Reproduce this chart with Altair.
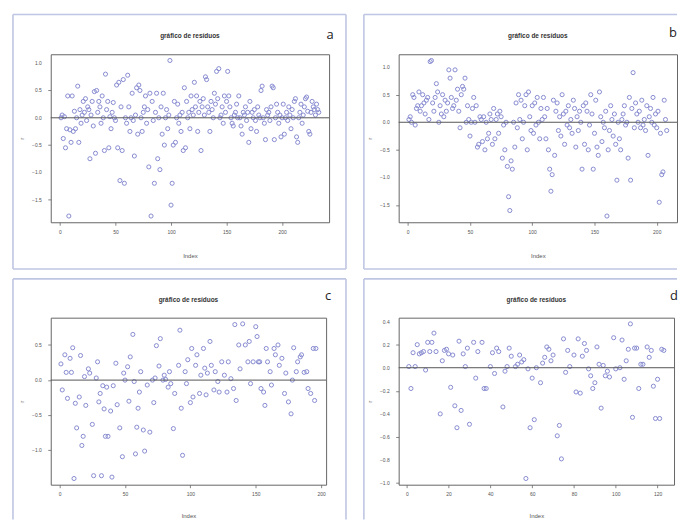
import altair as alt
import pandas as pd

# ---------------- data ----------------
# panel a: residuals in index order (1..233)
a_r = [
    0.00, 0.05, -0.38, 0.02, -0.55, -0.20, 0.40, -1.80, -0.22, -0.45,
    0.40, -0.25, 0.12, -0.20, 0.00, 0.58, -0.45, 0.15, -0.10, 0.05,
    0.30, 0.10, 0.35, -0.05, 0.20, 0.15, -0.75, 0.05, 0.30, -0.15,
    0.48, -0.65, 0.50, 0.10, 0.30, 0.20, -0.10, 0.40, 0.00, -0.60,
    0.80, 0.15, 0.30, -0.55, 0.02, -0.20, 0.10, 0.28, 0.00, -0.05,
    0.60, -0.55, 0.65, -1.15, 0.20, -0.60, 0.70, -1.20, 0.00, -0.10,
    0.78, 0.20, -0.25, 0.00, 0.45, -0.05, -0.70, 0.05, 0.55, -0.30,
    0.60, 0.50, 0.00, -0.25, 0.10, 0.20, 0.40, -0.10, 0.15, -0.90,
    0.45, -1.80, 0.30, -0.05, -1.20, 0.10, 0.45, -0.75, 0.00, -0.95,
    0.20, -0.30, 0.45, -0.50, 0.00, 0.15, -0.20, 0.05, 1.05, -1.60,
    -1.20, -0.50, 0.30, -0.45, 0.00, 0.25, -0.10, 0.05, -0.25, 0.10,
    -0.60, 0.55, -0.55, 0.30, 0.00, 0.10, -0.20, 0.40, 0.15, 0.05,
    0.65, 0.20, 0.40, -0.25, 0.10, 0.30, -0.60, 0.20, 0.35, 0.05,
    0.75, 0.70, 0.20, 0.10, -0.25, 0.30, 0.15, 0.00, 0.45, 0.25,
    0.85, 0.35, 0.90, 0.00, 0.05, 0.20, -0.10, 0.40, 0.10, 0.30,
    0.85, 0.40, 0.20, 0.00, -0.10, -0.15, 0.05, 0.10, 0.25, 0.00,
    0.40, 0.00, -0.15, -0.30, 0.10, 0.05, 0.20, -0.05, 0.10, -0.45,
    0.30, -0.20, 0.10, 0.00, 0.15, -0.05, -0.25, 0.20, 0.05, 0.00,
    0.50, 0.58, 0.00, -0.10, -0.40, 0.15, 0.05, 0.10, -0.05, 0.20,
    0.58, 0.55, -0.40, 0.00, 0.25, 0.10, -0.10, 0.05, -0.35, 0.00,
    0.25, -0.30, 0.00, 0.10, -0.05, 0.20, 0.05, -0.20, 0.15, 0.00,
    0.30, 0.35, -0.35, -0.45, 0.00, 0.10, 0.25, -0.10, 0.05, 0.20,
    0.35, 0.38, 0.12, -0.25, -0.30, 0.10, 0.30, 0.20, 0.15, 0.05,
    0.25, 0.15, 0.10,
]

# panel b: residuals in index order (1..208)
b_r = [
    0.05, 0.10, 0.00, 0.50, 0.45, -0.05, 0.25, 0.30, 0.55, 0.20,
    0.30, 0.50, 0.35, 0.15, 0.40, 0.45, 0.05, 1.10, 1.12, 0.35,
    0.20, 0.45, 0.70, 0.55, 0.00, 0.30, 0.15, 0.50, 0.10, 0.40,
    0.20, 0.35, 0.95, 0.80, 0.45, 0.25, 0.30, 0.95, 0.40, 0.60,
    0.20, -0.10, 0.50, 0.65, 0.60, 0.80, 0.00, 0.30, 0.05, -0.25,
    0.00, 0.25, 0.45, 0.00, 0.30, -0.45, -0.40, 0.10, 0.05, -0.35,
    0.10, -0.50, 0.00, -0.30, -0.20, 0.15, 0.05, -0.40, 0.25, -0.30,
    0.05, 0.15, -0.20, 0.20, 0.10, -0.65, -0.05, -0.50, 0.00, -0.80,
    -1.35, -1.60, -0.70, -0.85, 0.00, -0.45, 0.35, -0.10, 0.50, 0.05,
    0.40, -0.30, 0.00, 0.30, 0.50, -0.50, 0.55, 0.10, -0.15, 0.30,
    -0.20, 0.35, -0.05, 0.45, 0.00, -0.30, 0.25, 0.05, 0.45, 0.10,
    -0.30, 0.25, -0.50, -0.85, -1.25, -0.95, 0.40, -0.60, 0.20, 0.35,
    -0.15, 0.10, -0.25, 0.50, 0.15, -0.40, 0.20, -0.05, 0.30, -0.10,
    0.05, -0.20, 0.40, 0.25, -0.45, 0.10, -0.15, 0.20, 0.00, -0.85,
    0.30, -0.40, 0.35, 0.20, -0.50, -0.05, 0.50, 0.15, -0.85, -0.20,
    0.40, -0.45, -0.60, 0.55, 0.10, -0.35, 0.00, -0.10, 0.20, -1.70,
    -0.50, -0.15, 0.30, 0.05, -0.25, 0.15, -0.40, -1.05, 0.00, -0.30,
    -0.50, 0.05, 0.15, 0.30, -0.05, 0.00, -0.65, 0.45, -1.05, 0.25,
    0.90, -0.10, 0.35, 0.15, 0.00, 0.20, -0.10, 0.40, -0.05, 0.05,
    -0.15, 0.30, -0.60, 0.10, 0.25, 0.00, 0.45, -0.05, 0.15, -0.10,
    0.20, -1.45, -0.20, -0.95, -0.90, 0.40, 0.05, -0.15,
]

# panel c: index / residual pairs
c_idx = [1, 2, 4, 5, 6, 8, 9, 10, 11, 12, 13, 15, 16, 17, 18, 19, 20, 22, 23, 25,
         26, 28, 29, 30, 31, 32, 33, 34, 35, 36, 37, 39, 40, 41, 43, 44, 46, 48, 49, 50,
         52, 53, 54, 56, 57, 58, 59, 60, 61, 62, 64, 65, 67, 69, 71, 72, 73, 74, 76, 77,
         79, 80, 81, 83, 84, 85, 87, 88, 91, 92, 93, 94, 96, 97, 98, 100, 101, 102, 104, 105,
         107, 108, 110, 111, 112, 113, 115, 116, 118, 119, 121, 122, 124, 126, 128, 129, 131, 133, 134, 135,
         137, 138, 140, 142, 144, 145, 146, 148, 150, 151, 152, 153, 154, 156, 157, 158, 159, 161, 162, 164,
         165, 167, 168, 170, 172, 173, 175, 177, 178, 179, 181, 182, 184, 185, 187, 189, 190, 192, 194, 195,
         196]
c_r = [0.23, -0.14, 0.36, 0.11, -0.26, 0.31, 0.11, 0.46, -1.40, -0.33, -0.68, -0.24, 0.35, -0.93, -0.80, 0.05, -0.36, 0.16, 0.10, -0.63,
       -1.36, 0.03, 0.26, -0.31, -0.19, -1.36, -0.08, -0.41, -0.80, -0.10, -0.80, -0.44, -1.38, -0.08, 0.24, -0.35, -0.68, -1.09, 0.10, 0.00,
       0.19, -0.30, 0.33, 0.65, -0.02, -1.05, -0.67, -0.40, -0.17, 0.12, -0.71, -1.01, -0.07, -0.74, 0.00, -0.32, 0.03, 0.49, 0.20, 0.59,
       0.00, 0.07, 0.01, -0.10, 0.12, -0.05, -0.69, -0.19, 0.21, 0.71, -0.40, -1.07, 0.12, -0.05, 0.29, -0.32, 0.45, -0.24, 0.21, 0.36,
       -0.19, 0.07, 0.45, 0.17, -0.21, 0.10, 0.55, 0.21, -0.14, 0.12, -0.02, -0.17, 0.26, 0.07, -0.17, 0.26, 0.02, -0.12, 0.79, -0.29,
       0.50, 0.16, 0.80, 0.50, 0.26, 0.55, -0.05, 0.26, 0.76, 0.62, 0.26, 0.26, -0.12, -0.17, -0.36, 0.45, 0.26, 0.12, -0.07, 0.45,
       0.36, 0.50, 0.21, 0.31, -0.19, 0.10, -0.31, -0.48, 0.00, 0.46, 0.12, 0.26, 0.33, 0.36, 0.11, 0.12, -0.12, -0.19, 0.45, -0.29,
       0.45]

# panel d: index / residual pairs
d_idx = [1, 2, 3, 4, 5, 6, 7, 8, 9, 10, 11, 12, 13, 14, 16, 17, 18, 19, 20, 21,
         22, 23, 24, 25, 26, 27, 28, 29, 30, 32, 33, 34, 36, 37, 38, 40, 41, 42, 43, 44,
         46, 47, 48, 49, 50, 52, 53, 54, 55, 56, 57, 58, 59, 60, 61, 62, 64, 65, 66, 67,
         68, 69, 70, 72, 73, 74, 75, 76, 77, 78, 80, 81, 82, 83, 84, 85, 86, 87, 88, 89,
         90, 91, 92, 93, 94, 95, 96, 97, 99, 100, 102, 103, 104, 105, 106, 107, 108, 109, 110, 111,
         112, 113, 115, 116, 117, 118, 119, 120, 121, 122, 123]
d_r = [0.01, -0.18, 0.13, 0.01, 0.20, 0.12, 0.13, 0.14, -0.02, 0.22, 0.14, 0.22, 0.30, 0.14, -0.40, 0.06, 0.15, 0.16, 0.12, -0.17,
       0.11, -0.33, -0.52, 0.23, -0.37, 0.12, 0.01, 0.17, -0.49, 0.22, -0.09, 0.14, 0.22, -0.18, -0.18, 0.01, 0.13, -0.05, 0.17, 0.14,
       -0.34, -0.03, 0.01, 0.17, 0.10, 0.01, 0.03, 0.11, 0.05, 0.07, -0.96, -0.01, -0.52, -0.09, -0.45, 0.00, -0.13, 0.04, 0.09, 0.18,
       0.16, 0.06, 0.11, -0.59, -0.50, -0.79, 0.25, -0.04, 0.15, 0.01, 0.11, -0.21, 0.25, -0.22, 0.10, 0.21, 0.15, -0.01, -0.07, -0.18,
       -0.13, 0.18, 0.03, -0.35, 0.02, -0.07, -0.03, -0.08, 0.26, -0.01, 0.00, 0.24, -0.10, 0.06, 0.16, 0.38, -0.43, 0.17, 0.17, -0.18,
       0.03, 0.03, 0.18, 0.09, 0.15, -0.16, -0.44, -0.10, -0.44, 0.16, 0.15]

a_idx = list(range(1, len(a_r) + 1))
b_idx = list(range(1, len(b_r) + 1))

x_ticks_200 = [0, 50, 100, 150, 200]
x_ticks_120 = [0, 20, 40, 60, 80, 100, 120]
y_ticks_a = [-1.5, -1.0, -0.5, 0.0, 0.5, 1.0]
y_ticks_c = [-1.0, -0.5, 0.0, 0.5]
y_ticks_d = [-1.0, -0.8, -0.6, -0.4, -0.2, 0.0, 0.2, 0.4]

TITLE = "gráfico de resíduos"
POINT = "#878bd0"
FRAME = "#bfc6e3"
FONT = "Liberation Sans"


def panel(idx, r, xdom, ydom, xt, yt, w, h, letter, edges, lpos, title_y):
    df = pd.DataFrame({"Index": idx, "r": r})
    one = pd.DataFrame({"k": [0]})
    ticks_df = pd.DataFrame({"r": yt})
    yscale = alt.Scale(domain=ydom, nice=False, zero=False)
    x = alt.X("Index:Q",
              scale=alt.Scale(domain=xdom, nice=False, zero=False),
              axis=alt.Axis(values=xt, format="d", title="Index", labelOverlap=False,
                            titleY=title_y, titleBaseline="middle"))
    y = alt.Y("r:Q", scale=yscale,
              axis=alt.Axis(values=yt, labels=False, title="r",
                            titleX=-29, titleY=h / 2, titleBaseline="middle"))
    pts = alt.Chart(df).mark_point(
        shape="circle", filled=False, size=17, stroke=POINT, strokeWidth=1.0, opacity=1
    ).encode(x=x, y=y)
    # y tick labels, placed through the y scale
    ylab = alt.Chart(ticks_df).mark_text(
        align="right", baseline="middle", font=FONT, fontSize=5, color="#555555"
    ).encode(y=alt.Y("r:Q", scale=yscale),
             x=alt.value(-9),
             text=alt.Text("r:Q", format=".1f"))
    zero = alt.Chart(one).mark_rule(color="#555555", strokeWidth=1).encode(
        y=alt.Y(datum=0), x=alt.value(0), x2=alt.value(w))
    layers = [pts, ylab, zero]
    for (x1, x2, y1, y2) in edges:
        layers.append(
            alt.Chart(one).mark_rule(color=FRAME, strokeWidth=1.6).encode(
                x=alt.value(x1), x2=alt.value(x2), y=alt.value(y1), y2=alt.value(y2))
        )
    ttl = alt.Chart(one).mark_text(
        text=TITLE, font=FONT, fontSize=6.5, fontWeight="bold", color="#333333"
    ).encode(x=alt.value(w / 2), y=alt.value(-18))
    let = alt.Chart(one).mark_text(
        text=letter, font="Open Sans", fontSize=13, color="#222222"
    ).encode(x=alt.value(lpos[0]), y=alt.value(lpos[1]))
    layers += [ttl, let]
    return alt.layer(*layers).properties(width=w, height=h)


# frame edges (left, top, right, bottom) relative to each plot area
edges_a = [(-38, -38, -40, 216), (-38, 297, -40, -40), (297, 297, -40, 216), (-38, 297, 216, 216)]
edges_b = [(-35, -35, -40, 216), (-35, 280, -40, -40), (-35, 280, 216, 216)]
edges_c = [(-38, -38, -39, 203), (-38, 297, -39, -39), (297, 297, -39, 203)]
edges_d = [(-35, -35, -39, 203), (-35, 280, -39, -39)]

pa = panel(a_idx, a_r, [-8.28, 242.28], [-1.914, 1.164], x_ticks_200, y_ticks_a,
           280, 169, "a", edges_a, (281, -19), 33)
pb = panel(b_idx, b_r, [-7.28, 216.28], [-1.813, 1.233], x_ticks_200, y_ticks_a,
           280, 169, "b", edges_b, (276, -21), 33)
pc = panel(c_idx, c_r, [-6.8, 203.8], [-1.488, 0.888], x_ticks_200, y_ticks_c,
           277, 168, "c", edges_c, (279, -22), 31)
pd_ = panel(d_idx, d_r, [-3.88, 127.88], [-1.0136, 0.4336], x_ticks_120, y_ticks_d,
            277, 168, "d", edges_d, (277, -22), 31)

chart = alt.concat(
    pa, pb, pc, pd_, columns=2, spacing={"row": 96, "column": 70}, bounds="flush"
).properties(
    padding={"left": 3, "top": 3, "right": 0, "bottom": 0}, background="white"
).configure_view(
    stroke="#666666", strokeWidth=1
).configure_axis(
    grid=False, domain=False, tickSize=3, tickColor="#666666", tickWidth=0.8,
    labelFont=FONT, labelFontSize=5, labelColor="#555555",
    titleFont=FONT, titleFontSize=6, titleColor="#555555", titleFontWeight="normal"
).configure_axisY(
    titleAngle=270
).configure_axisX(
    labelPadding=4
)

chart.save("out.html", embed_options={"renderer": "svg", "actions": False})
